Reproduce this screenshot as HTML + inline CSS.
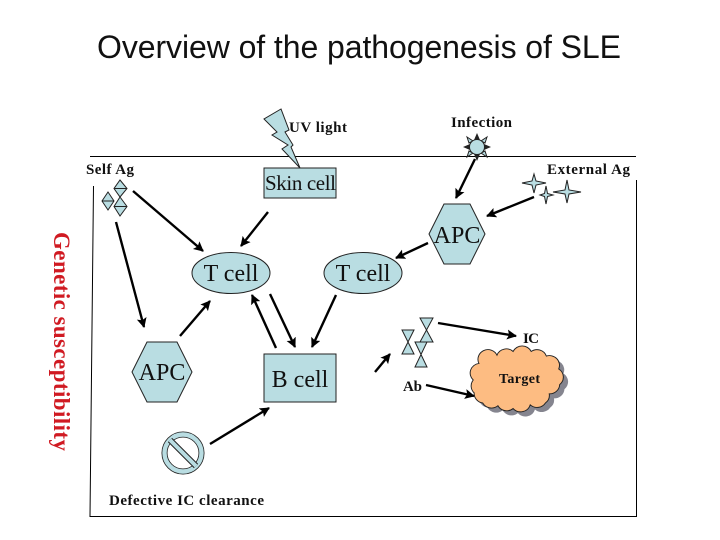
<!DOCTYPE html>
<html><head><meta charset="utf-8"><style>
html,body{margin:0;padding:0;background:#fff}
svg{display:block}
.b{font-family:"Liberation Serif",serif;font-weight:bold;font-size:15px;fill:#111}
.n{font-family:"Liberation Serif",serif;font-size:24px;fill:#111}
.s{fill:#b9dde2;stroke:#222;stroke-width:1}
.a{stroke:#000;stroke-width:2.4;fill:none;marker-end:url(#m)}
</style></head><body>
<svg width="720" height="540" viewBox="0 0 720 540" xmlns="http://www.w3.org/2000/svg">
<defs><marker id="m" markerUnits="userSpaceOnUse" markerWidth="12" markerHeight="12" refX="9" refY="5" orient="auto"><path d="M0,0L10,5L0,10L2,5Z" fill="#000"/></marker>
<path id="c" d="M471,380A10.5,10.5 0 0 1 477,362A10.5,10.5 0 0 1 496,353A10.5,10.5 0 0 1 513,349A10.5,10.5 0 0 1 532,349A10.5,10.5 0 0 1 548,354A10.5,10.5 0 0 1 561,368A10.5,10.5 0 0 1 562,385A10.5,10.5 0 0 1 551,395A10.5,10.5 0 0 1 547,405A10.5,10.5 0 0 1 531,407A10.5,10.5 0 0 1 513,411A10.5,10.5 0 0 1 497,408A10.5,10.5 0 0 1 481,405A10.5,10.5 0 0 1 472,394A10.5,10.5 0 0 1 471,380Z"/></defs>
<text x="97" y="58" font-family="Liberation Sans,sans-serif" font-size="32" textLength="524" fill="#111">Overview of the pathogenesis of SLE</text>

<path d="M90,156.5H636M636.5,180V516.5H90L93.5,186" fill="none" stroke="#000" stroke-width="1"/>

<polygon class="s" points="281,109 264,119 277,132 272,135 288,145 282,149 300,168 291,147 293,145 285,132 289,130"/>
<text class="b" x="289" y="132" textLength="58">UV light</text>
<text class="b" x="451" y="127" textLength="61">Infection</text>
<rect class="s" x="264" y="168" width="72" height="30"/>
<text class="n" x="265" y="190" style="font-size:21px" textLength="71">Skin cell</text>
<text class="b" x="86" y="174" textLength="48">Self Ag</text>
<text class="b" x="547" y="174" textLength="83">External Ag</text>

<polygon points="477,133 480,140 474,140" fill="#222"/><polygon points="491,147 484,144 484,150" fill="#222"/><polygon points="463,147 470,144 470,150" fill="#222"/><polygon points="477,161 480,154 474,154" fill="#222"/>
<polygon class="s" points="467,137 473,141 469,143"/><polygon class="s" points="487,137 481,141 485,143"/><polygon class="s" points="467,157 473,153 469,151"/><polygon class="s" points="487,157 481,153 485,151"/>
<circle class="s" cx="477" cy="147" r="7.5"/>

<polygon class="s" points="120,180 127,188.5 120,197 114,188.5"/><line x1="114" y1="188.5" x2="127" y2="188.5" stroke="#222"/>
<polygon class="s" points="108,192 114,201 108,210 102,201"/><line x1="102" y1="201" x2="114" y2="201" stroke="#222"/>
<polygon class="s" points="120,197 127,206.5 120,216 114,206.5"/><line x1="114" y1="206.5" x2="127" y2="206.5" stroke="#222"/>

<polygon class="s" points="534,174 536,181 546,183 536,185 534,193 532,185 522,183 532,181"/>
<polygon class="s" points="546,186 547.5,193.5 553,195 547.5,196.5 546,204 544.5,196.5 540,195 544.5,193.5"/>
<polygon class="s" points="567,180 569,190 581,192 569,194 567,203 565,194 553,192 565,190"/>

<polygon class="s" points="429,234 444,204 470,204 485,234 470,264 444,264"/>
<text class="n" x="457" y="243" text-anchor="middle">APC</text>
<ellipse class="s" cx="231" cy="273" rx="39" ry="20.5"/>
<text class="n" x="231" y="281" text-anchor="middle">T cell</text>
<ellipse class="s" cx="363" cy="273" rx="39" ry="20.5"/>
<text class="n" x="363" y="281" text-anchor="middle">T cell</text>
<polygon class="s" points="132,372 147,342 177,342 192,372 177,402 147,402"/>
<text class="n" x="162" y="380" text-anchor="middle">APC</text>
<rect class="s" x="264" y="354" width="72" height="48"/>
<text class="n" x="300" y="387" text-anchor="middle">B cell</text>

<circle cx="183" cy="453" r="18.5" fill="none" stroke="#222" stroke-width="6"/>
<circle cx="183" cy="453" r="18.5" fill="none" stroke="#b9dde2" stroke-width="4.4"/>
<line x1="170" y1="440" x2="196" y2="466" stroke="#222" stroke-width="6"/>
<line x1="170" y1="440" x2="196" y2="466" stroke="#b9dde2" stroke-width="4"/>

<polygon class="s" points="402,330 414,330 402,354 414,354"/>
<polygon class="s" points="420,318 433,318 420,342 433,342"/>
<polygon class="s" points="415,342 427,342 415,367 427,367"/>
<text class="b" x="523" y="343" textLength="16">IC</text>
<text class="b" x="403" y="391" textLength="19">Ab</text>
<text class="b" x="109" y="505" textLength="155">Defective IC clearance</text>

<g transform="translate(515.5,380) scale(0.95,0.92) translate(-515.5,-380)">
<use href="#c" transform="translate(5,5)" fill="#85858f"/>
<use href="#c" fill="#fdbc82" stroke="#222" stroke-width="1"/>
</g>
<text class="b" x="499" y="383" textLength="41" style="font-size:14px">Target</text>

<text transform="translate(54,232) rotate(90)" font-family="Liberation Serif,serif" font-weight="bold" font-size="23" fill="#d01a22" textLength="219">Genetic susceptibility</text>

<line class="a" x1="133" y1="191" x2="203" y2="251"/>
<line class="a" x1="116" y1="222" x2="144" y2="327"/>
<line class="a" x1="268" y1="212" x2="241" y2="246"/>
<line class="a" x1="475" y1="159" x2="456" y2="198"/>
<line class="a" x1="534" y1="197" x2="487" y2="216"/>
<line class="a" x1="428" y1="243" x2="396" y2="258"/>
<line class="a" x1="180" y1="336" x2="210" y2="301"/>
<line class="a" x1="276" y1="348" x2="252" y2="295"/>
<line class="a" x1="270" y1="294" x2="295" y2="347"/>
<line class="a" x1="336" y1="295" x2="312" y2="347"/>
<line class="a" x1="210" y1="444" x2="269" y2="408"/>
<line class="a" x1="375" y1="372" x2="390" y2="354"/>
<line class="a" x1="438" y1="323" x2="516" y2="336"/>
<line class="a" x1="426" y1="385" x2="474" y2="396"/>
</svg>
</body></html>
